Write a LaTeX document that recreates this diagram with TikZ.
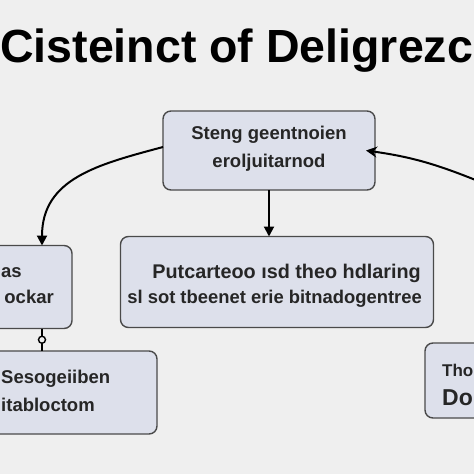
\documentclass[tikz,border=0pt]{standalone}
\usepackage{fontspec}
\setmainfont{Liberation Sans}
\usetikzlibrary{arrows.meta}
\definecolor{bg}{HTML}{EFEFEF}
\definecolor{boxfill}{HTML}{DDE0EB}
\definecolor{boxline}{HTML}{4A4A4A}
\tikzset{
  box/.style={draw=boxline, fill=boxfill, line width=1.4pt, rounded corners=8pt,
    inner sep=0pt, outer sep=0pt},
  boxtext/.style={font=\bfseries\fontsize{18.5}{28}\selectfont, text=black!85, inner sep=0pt, align=center},
  linetext/.style={font=\bfseries\fontsize{18.5}{28}\selectfont, text=black!85, inner sep=0pt},
  arr/.style={line width=2pt, black, -{Triangle[length=10pt,width=10pt]}},
  barr/.style={line width=2pt, black, -{Stealth[length=11pt,width=11pt]}},
}
\begin{document}
\begin{tikzpicture}[x=1pt,y=-1pt]
\fill[bg] (0,0) rectangle (474,474);
\useasboundingbox (0,0) rectangle (474,474);
\clip (0,0) rectangle (474,474);
% title
\node[anchor=base west, inner sep=0pt, font=\bfseries\fontsize{46.5}{50}\selectfont] (title) at (0,62) {Cisteinct of Deligrezc};
% boxes
\node[box, minimum width=212pt, minimum height=79pt] (top) at (269,150.5) {};
\node[boxtext] (toptext) at (269,149) {Steng geentnoien\\eroljuitarnod};
\node[box, minimum width=82pt, minimum height=83pt] (lbox) at (31,287) {};
\node[linetext, anchor=base west] (lt1) at (1,277) {as};
\node[linetext, anchor=base east] (lt2) at (54,303) {ockar};
\node[box, minimum width=313pt, minimum height=91pt] (mid) at (277,282) {};
\node[linetext, anchor=base east, font=\bfseries\fontsize{19.8}{24}\selectfont] (mt1) at (421,278) {Putcarteoo ısd theo hdlaring};
\node[linetext, anchor=base east, font=\bfseries\fontsize{18.4}{24}\selectfont] (mt2) at (422,303) {sl sot tbeenet erie bitnadogentree};
\node[box, minimum width=167pt, minimum height=83pt] (bl) at (73.5,392.5) {};
\node[linetext, anchor=base west] (blt1) at (1,383) {Sesogeiiben};
\node[linetext, anchor=base west] (blt2) at (1,411) {itabloctom};
\node[box, minimum width=65pt, minimum height=75pt] (br) at (457.5,380.5) {};
\node[inner sep=0pt, anchor=base west, text=black!85, font=\bfseries\fontsize{17}{20}\selectfont] (brt1) at (442,376) {Tho};
\node[inner sep=0pt, anchor=base west, text=black!85, font=\bfseries\fontsize{23}{26}\selectfont] (brt2) at (442,405) {Do};
% connectors
\draw[arr] ([yshift=3.5pt]top.west) to[out=195, in=90, looseness=1.1] ([xshift=11pt]lbox.north);
\coordinate (rstart) at (478,181);
\draw[barr] (rstart) to[out=158, in=-8] ([xshift=-9pt]top.east);
\draw[arr] (top.south) -- (mid.north -| top.south);
\draw[line width=1.6pt] ([xshift=11pt]lbox.south) -- ([xshift=-31.5pt]bl.north)
  node[pos=0.5, draw, line width=1.4pt, circle, fill=bg, minimum size=7pt, inner sep=0pt] (knot) {};
\end{tikzpicture}
\end{document}
